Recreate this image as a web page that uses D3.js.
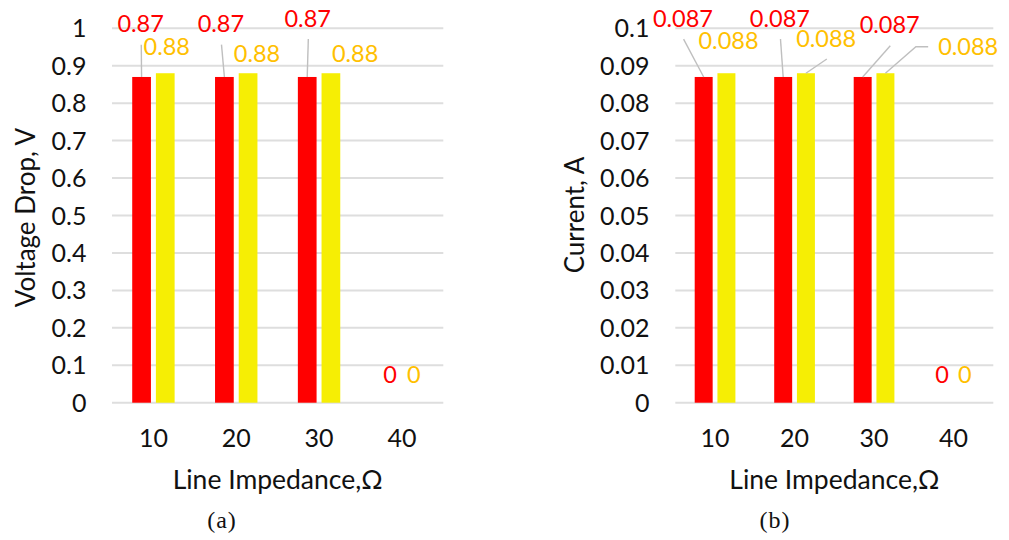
<!DOCTYPE html>
<html>
<head>
<meta charset="utf-8">
<script src="https://cdn.jsdelivr.net/npm/d3@7"></script>
<style>
  html, body { margin: 0; padding: 0; background: #fff; }
  svg { display: block; }
  text { font-family: Lato, "Open Sans", sans-serif; }
</style>
</head>
<body>
<svg id="chart" width="1009" height="540"></svg>
<script>
// Line impedance categories (Ω)
const categories = ["10", "20", "30", "40"];

// Voltage drop (V) for the two phases
const voltageRed = [0.87, 0.87, 0.87, 0];
const voltageYellow = [0.88, 0.88, 0.88, 0];

// Current (A) for the two phases
const currentRed = [0.087, 0.087, 0.087, 0];
const currentYellow = [0.088, 0.088, 0.088, 0];

// Y axis ticks
const voltageTicks = [0, 0.1, 0.2, 0.3, 0.4, 0.5, 0.6, 0.7, 0.8, 0.9, 1];
const currentTicks = [0, 0.01, 0.02, 0.03, 0.04, 0.05, 0.06, 0.07, 0.08, 0.09, 0.1];

// Label placement relative to the top-centre of each bar: [dx, dy(baseline), leader]
// leader: null = none, "down" = from below the label to the bar, "elbow" = from the label's left side
const voltageRedLabels = [[-0.9, -44.6, "down"], [-3.5, -44.6, "down"], [0.5, -50.2, "down"], [0, -19.4, null]];
const voltageYellowLabels = [[1.5, -18.2, null], [8.9, -11.5, null], [24.2, -11.5, null], [0, -19.4, null]];
const currentRedLabels = [[-20.7, -50.2, "down"], [-3.3, -50.2, "down"], [27, -43.6, "down"], [0, -19.4, null]];
const currentYellowLabels = [[2.1, -23.9, null], [20.3, -26.5, "down"], [82.8, -18.2, "elbow"], [0, -19.4, null]];

const COLORS = { red: "#FF0000", yellow: "#F6EE04", redText: "#FF0000", yellowText: "#FFC000",
                 grid: "#DEDEDE", leader: "#BFBFBF", text: "#111111" };

const svg = d3.select("#chart");

function drawPanel(p) {
  const g = svg.append("g");
  const x = d3.scaleBand().domain(categories).range([p.left, p.right]).padding(0);
  const y = d3.scaleLinear().domain([0, p.max]).range([p.bottom, p.top]);
  const bw = x.bandwidth();
  const barW = bw * 0.226;
  const gap = bw * 0.06;

  // gridlines
  g.append("g").selectAll("line").data(p.ticks).join("line")
    .attr("x1", p.left).attr("x2", p.right)
    .attr("y1", d => y(d)).attr("y2", d => y(d))
    .attr("stroke", COLORS.grid).attr("stroke-width", 2);

  // y tick labels
  g.append("g").selectAll("text").data(p.ticks).join("text")
    .attr("x", p.tickRight).attr("y", d => y(d))
    .attr("dy", "0.36em")
    .attr("text-anchor", "end")
    .attr("font-size", 25).attr("fill", COLORS.text)
    .text(d => String(d));

  // x tick labels
  g.append("g").selectAll("text").data(categories).join("text")
    .attr("x", d => x(d) + bw / 2).attr("y", 446.5)
    .attr("text-anchor", "middle")
    .attr("font-size", 25).attr("fill", COLORS.text)
    .text(d => d);

  const series = [
    { vals: p.red, labels: p.redLabels, fill: COLORS.red, tc: COLORS.redText, off: -gap / 2 - barW },
    { vals: p.yellow, labels: p.yellowLabels, fill: COLORS.yellow, tc: COLORS.yellowText, off: gap / 2 }
  ];

  series.forEach(s => {
    const items = categories.map((c, i) => ({ c, v: s.vals[i], lab: s.labels[i] }));
    g.append("g").selectAll("rect").data(items).join("rect")
      .attr("x", d => x(d.c) + bw / 2 + s.off)
      .attr("width", barW)
      .attr("y", d => y(d.v))
      .attr("height", d => y(0) - y(d.v))
      .attr("fill", s.fill);

    items.forEach(d => {
      const cx = x(d.c) + bw / 2 + s.off + barW / 2;
      const top = y(d.v);
      const lx = cx + d.lab[0];
      const ly = top + d.lab[1];
      const t = g.append("text")
        .attr("x", lx).attr("y", ly)
        .attr("text-anchor", "middle")
        .attr("font-size", 23.5).attr("fill", s.tc)
        .text(String(d.v));
      if (d.lab[2] === "down") {
        g.append("line")
          .attr("x1", lx + 0.6).attr("y1", ly + 12.3)
          .attr("x2", cx).attr("y2", top)
          .attr("stroke", COLORS.leader).attr("stroke-width", 1.4);
      } else if (d.lab[2] === "elbow") {
        const left = lx - t.node().getComputedTextLength() / 2;
        g.append("path")
          .attr("d", d3.line()([[left - 10, ly - 8.3], [left - 22.3, ly - 8.3], [cx, top]]))
          .attr("fill", "none")
          .attr("stroke", COLORS.leader).attr("stroke-width", 1.4);
      }
    });
  });

  // axis titles
  g.append("text")
    .attr("transform", `translate(${p.yTitleX},${p.yTitleY}) rotate(-90)`)
    .attr("text-anchor", "middle")
    .attr("font-size", 26).attr("fill", COLORS.text)
    .text(p.yTitle);

  g.append("text")
    .attr("x", (p.left + p.right) / 2).attr("y", 489)
    .attr("text-anchor", "middle")
    .attr("font-size", 26.5).attr("fill", COLORS.text)
    .text("Line Impedance,Ω");

  // panel caption
  g.append("text")
    .attr("x", p.captionX).attr("y", 528)
    .attr("text-anchor", "middle")
    .style("font-family", "'Liberation Serif', 'DejaVu Serif', serif")
    .attr("font-size", 24).attr("letter-spacing", 1).attr("fill", COLORS.text)
    .text(p.caption);
}

drawPanel({
  left: 112, right: 443.3, top: 28.3, bottom: 402.7, max: 1,
  ticks: voltageTicks, tickRight: 86.5,
  red: voltageRed, yellow: voltageYellow,
  redLabels: voltageRedLabels, yellowLabels: voltageYellowLabels,
  yTitle: "Voltage Drop, V", yTitleX: 35, yTitleY: 217.5,
  caption: "(a)", captionX: 222
});

drawPanel({
  left: 675.3, right: 993.3, top: 28.3, bottom: 402.7, max: 0.1,
  ticks: currentTicks, tickRight: 649.5,
  red: currentRed, yellow: currentYellow,
  redLabels: currentRedLabels, yellowLabels: currentYellowLabels,
  yTitle: "Current, A", yTitleX: 583.5, yTitleY: 215,
  caption: "(b)", captionX: 775
});
</script>
</body>
</html>
